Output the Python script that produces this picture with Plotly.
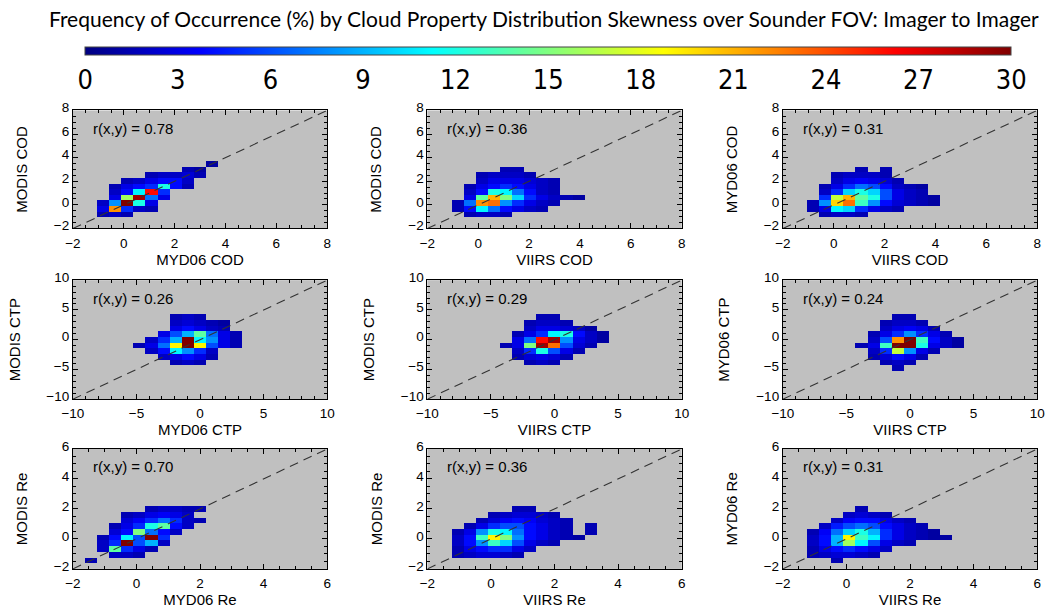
import plotly.graph_objects as go

# ---------------- data ----------------
TITLE = "Frequency of Occurrence (%) by Cloud Property Distribution Skewness over Sounder FOV: Imager to Imager"
NBINS = 21
CBAR_TICKS = [0, 3, 6, 9, 12, 15, 18, 21, 24, 27, 30]

X_LABELS = ["MYD06 COD", "VIIRS COD", "VIIRS COD",
            "MYD06 CTP", "VIIRS CTP", "VIIRS CTP",
            "MYD06 Re", "VIIRS Re", "VIIRS Re"]
Y_LABELS = ["MODIS COD", "MODIS COD", "MYD06 COD",
            "MODIS CTP", "MODIS CTP", "MYD06 CTP",
            "MODIS Re", "MODIS Re", "MYD06 Re"]
R_VALUES = [0.78, 0.36, 0.31, 0.26, 0.29, 0.24, 0.70, 0.36, 0.31]

# skewness axis range, major and minor tick step for each row (COD, CTP, Re)
ROW_RANGE = [(-2, 8), (-10, 10), (-2, 6)]
ROW_DTICK = [2, 5, 2]
ROW_MINOR = [0.5, 1, 0.5]

# frequency of occurrence (%) : (y-bin index, first x-bin index, values along x)
FREQ_P1 = [
    (11, 11, [1]),
    (10, 9, [1.5, 1]),
    (9, 6, [1.5, 2, 2, 2.5, 1.5]),
    (8, 4, [1.5, 2, 3, 4, 4, 2]),
    (7, 3, [1.5, 3, 4, 5, 12, 4, 1.5]),
    (6, 3, [2, 4, 11, 26, 5]),
    (5, 3, [3, 16, 29, 7, 3]),
    (4, 2, [2, 8, 30, 12, 3]),
    (3, 2, [3, 22, 5, 2, 1.5]),
    (2, 2, [1.5, 2, 1.5]),
]
FREQ_P2 = [
    (10, 6, [1.5, 1.5]),
    (9, 4, [1.5, 2, 2, 2, 1.5]),
    (8, 4, [2, 3, 3, 3, 2.5, 2, 1.5]),
    (7, 3, [1.5, 3, 4, 5, 4, 3, 2, 1.5]),
    (6, 3, [2, 4, 12, 11, 7, 4, 2, 1.5]),
    (5, 3, [3, 14, 21, 15, 10, 5, 3, 2, 1.5, 1]),
    (4, 2, [1.5, 7, 22, 23, 8, 5, 3, 2, 1.5]),
    (3, 2, [1.5, 4, 11, 7, 4, 3, 2, 1.5]),
    (2, 3, [1.5, 2, 2, 1.5]),
]
FREQ_P3 = [
    (10, 6, [1.5, None, 1.5]),
    (9, 4, [1.5, 2, 2, 2, 1.5]),
    (8, 4, [2, 3, 3.5, 3, 2.5, 1.5]),
    (7, 3, [1.5, 3, 5, 7, 6, 4, 2, 1.5, 1]),
    (6, 3, [2, 5, 10, 12, 10, 6, 3, 2, 1.5]),
    (5, 3, [5, 17, 21, 14, 12, 6, 3, 2, 1.5, 1]),
    (4, 2, [1.5, 8, 20, 23, 13, 8, 4, 2.5, 2, 1.5, 1]),
    (3, 2, [1.5, 3, 11, 10, 5, 3, 2, 1.5]),
    (2, 3, [1.5, 2, 2, 1.5]),
]
FREQ_P4 = [
    (14, 8, [1.5, 2, 1.5]),
    (13, 8, [2, 2.5, 2, 1.5, 1]),
    (12, 8, [3, 4, 3, 2, 1.5]),
    (11, 7, [3, 6, 9, 14, 7, 3, 1.5]),
    (10, 6, [2, 5, 9, 30, 11, 8, 3, 1.5]),
    (9, 5, [1.5, 3, 7, 19, 30, 19, 6, 3, 1.5]),
    (8, 6, [2, 4, 11, 8, 5, 2]),
    (7, 7, [2, 3, 4, 3, 1.5]),
    (6, 8, [1.5, 2, 1.5]),
]
FREQ_P5 = [
    (14, 9, [1.5, 1.5]),
    (13, 8, [1.5, 2, 2, 1.5]),
    (12, 8, [2, 3, 3, 2.5, 2, 1]),
    (11, 7, [1.5, 3, 5, 11, 12, 4, 2, 1]),
    (10, 7, [3, 7, 26, 29, 8, 3, 2, 1]),
    (9, 6, [1.5, 3, 15, 29, 23, 6, 2.5, 1.5]),
    (8, 7, [2, 5, 12, 6, 3, 1.5]),
    (7, 7, [1.5, 2.5, 3, 2.5, 1.5]),
    (6, 8, [1.5, 2, 1.5]),
]
FREQ_P6 = [
    (14, 9, [1.5, 1.5]),
    (13, 8, [1.5, 2, 2, 1.5]),
    (12, 8, [2, 3, 3.5, 3, 1.5]),
    (11, 7, [1.5, 3, 5, 8, 5, 3, 1.5]),
    (10, 7, [2, 6, 22, 30, 13, 4, 2, 1]),
    (9, 6, [1.5, 3, 13, 30, 30, 12, 3, 2, 1]),
    (8, 7, [2, 5, 17, 8, 3, 1.5]),
    (7, 7, [1.5, 2.5, 4, 3, 1.5]),
    (6, 8, [1.5, 2, 1.5]),
    (5, 9, [1.5]),
]
FREQ_P7 = [
    (10, 6, [1.5, 2, 2, 1.5, 1.5]),
    (9, 4, [1.5, 2, 3, 3.5, 3, 2]),
    (8, 4, [2.5, 3.5, 5, 7, 5, 2, 1.5]),
    (7, 3, [1.5, 3, 5, 12, 14, 4, 2]),
    (6, 3, [2.5, 4, 15, 7, 4, 2]),
    (5, 2, [1.5, 4, 11, 6, 30, 5]),
    (4, 2, [2, 5, 30, 6, 9, 2]),
    (3, 2, [2, 14, 5, 3, 1.5]),
    (2, 3, [2, 2, 1.5]),
    (1, 1, [1.5]),
]
FREQ_P8 = [
    (10, 7, [1.5, 1.5]),
    (9, 5, [1.5, 2, 2.5, 2.5, 2, 1.5]),
    (8, 4, [1.5, 2.5, 3.5, 4, 3.5, 2.5, 2, 1.5]),
    (7, 3, [1.5, 3, 5, 6, 6, 4, 3, 2, 1.5, None, 1.5]),
    (6, 2, [1.5, 3, 8, 12, 11, 7, 4, 3, 2, 1.5, None, 1.5]),
    (5, 2, [2, 4, 13, 19, 15, 8, 4, 3, 2, 1.5, 1]),
    (4, 2, [2, 4, 8, 13, 10, 6, 3, 2, 1.5]),
    (3, 2, [1.5, 3, 4, 5, 5, 3, 2]),
    (2, 2, [1.5, 2, 2.5, 2.5, 2, 1.5]),
]
FREQ_P9 = [
    (10, 6, [1.5]),
    (9, 5, [2, 2.5, 2, 1.5]),
    (8, 4, [2, 3.5, 4, 4, 3, 2, 1.5]),
    (7, 3, [2, 4.5, 6, 7, 6, 4, 3, 2, 1.5]),
    (6, 2, [1.5, 3.5, 7, 10, 12, 9, 5, 3, 2, 1.5, 1]),
    (5, 2, [2, 4, 9, 19, 13, 11, 5, 3, 2, 1.5, 1, 1]),
    (4, 2, [2, 4, 9, 16, 11, 6, 3, 2, 1.5]),
    (3, 2, [1.5, 3, 4, 5, 4, 3, 2]),
    (2, 2, [1.5, 2, 2.5, 2.5, 2, 1.5]),
    (1, 4, [1.5]),
]
PANELS = [FREQ_P1, FREQ_P2, FREQ_P3, FREQ_P4, FREQ_P5, FREQ_P6, FREQ_P7, FREQ_P8, FREQ_P9]

# ---------------- layout ----------------
W, H = 1055, 610
COL_PX = [(63, 322), (424, 683), (786, 1045)]
ROW_PX = [(103, 224), (277, 399), (450, 573)]

JET = [[0.0, "rgb(0,0,128)"], [0.125, "rgb(0,0,255)"], [0.375, "rgb(0,255,255)"],
       [0.625, "rgb(255,255,0)"], [0.875, "rgb(255,0,0)"], [1.0, "rgb(128,0,0)"]]

AX_FONT = dict(family="Liberation Sans, Arial, Helvetica, sans-serif", size=13.5, color="black")
LAB_FONT = dict(family="Liberation Sans, Arial, Helvetica, sans-serif", size=15, color="black")


def to_grid(rows):
    z = [[None] * NBINS for _ in range(NBINS)]
    for j, i0, vals in rows:
        for k, v in enumerate(vals):
            z[j][i0 + k] = v
    return z


fig = go.Figure()
layout = {}
annotations = []
for n in range(9):
    r, c = divmod(n, 3)
    lo, hi = ROW_RANGE[r]
    w = (hi - lo) / NBINS
    ax = "" if n == 0 else str(n + 1)
    fig.add_trace(go.Heatmap(
        z=to_grid(PANELS[n]), x0=lo + w / 2, dx=w, y0=lo + w / 2, dy=w,
        zmin=0, zmax=30, colorscale=JET, showscale=(n == 0),
        xaxis="x" + ax, yaxis="y" + ax, hoverongaps=False,
        colorbar=dict(orientation="h", x=547 / W, xanchor="center", y=1 - 38 / H, yanchor="top",
                      len=926, lenmode="pixels", thickness=8, xpad=0, ypad=0,
                      outlinewidth=1, outlinecolor="#444",
                      tickvals=CBAR_TICKS, ticks="outside", ticklen=2, tickcolor="rgba(0,0,0,0)",
                      tickfont=dict(family="Liberation Sans Narrow, DejaVu Sans Condensed, sans-serif",
                                    size=27, color="black")),
    ))
    fig.add_trace(go.Scatter(
        x=[lo, hi], y=[lo, hi], mode="lines", xaxis="x" + ax, yaxis="y" + ax,
        line=dict(color="#333333", width=1.1, dash="9px,6px"),
        hoverinfo="skip", showlegend=False))
    x0, x1 = COL_PX[c]
    yt, yb = ROW_PX[r]
    common = dict(range=[lo, hi], dtick=ROW_DTICK[r], tick0=0, ticks="inside", ticklen=5,
                  tickcolor="black", showline=True, linecolor="black", linewidth=1,
                  mirror="ticks", showgrid=False, zeroline=False, tickfont=AX_FONT,
                  minor=dict(ticks="inside", ticklen=3, dtick=ROW_MINOR[r], tick0=0,
                             tickcolor="black", showgrid=False))
    layout["xaxis" + ax] = dict(common, domain=[x0 / W, x1 / W], anchor="y" + ax,
                                ticklabelstandoff=2,
                                title=dict(text=X_LABELS[n], font=LAB_FONT, standoff=0))
    layout["yaxis" + ax] = dict(common, domain=[1 - yb / H, 1 - yt / H], anchor="x" + ax,
                                ticklabelstandoff=0, ticklabelshift=-3,
                                title=dict(text=Y_LABELS[n], font=LAB_FONT, standoff=22))
    annotations.append(dict(text=f"r(x,y) = {R_VALUES[n]:.2f}", xref="x" + ax + " domain",
                            yref="y" + ax + " domain", x=0.07, y=0.85, xanchor="left",
                            yanchor="middle", showarrow=False, font=LAB_FONT))

fig.update_layout(
    width=W, height=H, margin=dict(l=0, r=0, t=0, b=0),
    paper_bgcolor="white", plot_bgcolor="rgb(192,192,192)",
    showlegend=False, annotations=annotations,
    title=dict(text=TITLE, x=0.5155, xanchor="center", y=1 - 20 / H, yanchor="middle",
               font=dict(family="Lato, Open Sans, sans-serif", size=21, color="black")),
    **layout)

fig.write_html("out.html")
